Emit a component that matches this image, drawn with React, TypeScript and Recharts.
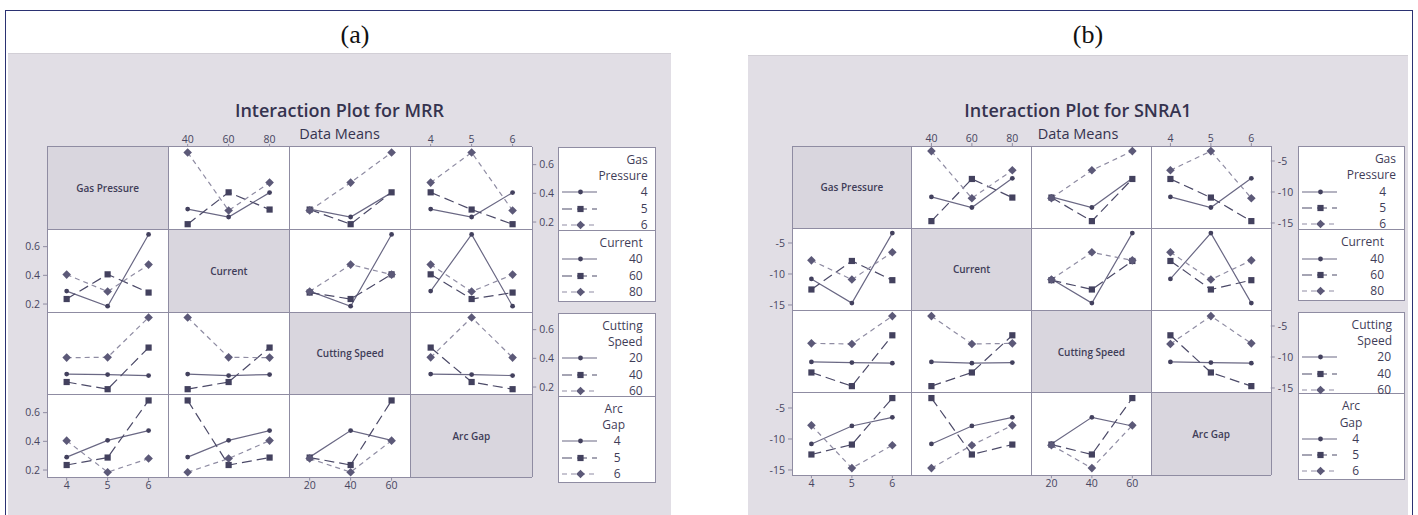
import React from 'react';
import { LineChart, Line, XAxis, YAxis } from 'recharts';

// Factor names and their three levels
const factorNames = ['Gas Pressure', 'Current', 'Cutting Speed', 'Arc Gap'];
const legendTitles = [['Gas', 'Pressure'], ['Current'], ['Cutting', 'Speed'], ['Arc', 'Gap']];
const gasPressureLevels = [4, 5, 6];
const currentLevels = [40, 60, 80];
const cuttingSpeedLevels = [20, 40, 60];
const arcGapLevels = [4, 5, 6];

// L9 orthogonal array: factor setting of each of the nine runs
const runGasPressure = [4, 4, 4, 5, 5, 5, 6, 6, 6];
const runCurrent = [40, 60, 80, 40, 60, 80, 40, 60, 80];
const runCuttingSpeed = [20, 40, 60, 40, 60, 20, 60, 20, 40];
const runArcGap = [4, 5, 6, 6, 4, 5, 5, 6, 4];

// Responses of the nine runs
const mrr = [0.29, 0.235, 0.405, 0.185, 0.407, 0.287, 0.685, 0.28, 0.475];
const snra1 = [-10.8, -12.5, -7.8, -14.7, -7.9, -10.9, -3.4, -11.0, -6.5];

// Axis ticks
const mrrTicks = [0.2, 0.4, 0.6];
const snra1Ticks = [-15, -10, -5];

const levels = [gasPressureLevels, currentLevels, cuttingSpeedLevels, arcGapLevels];
const runs = [runGasPressure, runCurrent, runCuttingSpeed, runArcGap];

const LINE = ['#6a6884', '#4c4a68', '#8f8ca3'];
const MARK = ['#43415e', '#43415e', '#5c5978'];
const DASH = [undefined, '10 5', '5 4'];
const GRID = '#8f8ca2';
const TXT = '#3f3d58';
const FONT = '"Open Sans", "Noto Sans", sans-serif';

// Mean response for each (row level, column level) pair
function cellData(resp: number[], rowF: number, colF: number) {
  return levels[colF].map((cv, b) => {
    const o: Record<string, number> = { x: b };
    levels[rowF].forEach((rv, a) => {
      const vals = resp.filter((_, r) => runs[rowF][r] === rv && runs[colF][r] === cv);
      o['s' + a] = vals.reduce((s, v) => s + v, 0) / vals.length;
    });
    return o;
  });
}

function Marker({ cx, cy, kind }: { cx: number; cy: number; kind: number }) {
  if (cx == null || cy == null) return null;
  if (kind === 0) return <circle cx={cx} cy={cy} r={2.4} fill={MARK[0]} />;
  if (kind === 1) return <rect x={cx - 3.1} y={cy - 3.1} width={6.2} height={6.2} fill={MARK[1]} />;
  const d = 4.3;
  return <polygon points={`${cx},${cy - d} ${cx + d},${cy} ${cx},${cy + d} ${cx - d},${cy}`} fill={MARK[2]} />;
}

type Panel = {
  caption: string; captionX: number; title: string; titleX: number;
  response: number[]; yDomain: [number, number]; yTicks: number[]; fmt: (v: number) => string;
  bg: { left: number; top: number; width: number; height: number };
  gx: number; gy: number; cw: number; rh: number;
  legendX: number; legendW: number;
  boxes: { top: number; h: number; div: number }[];
  legendAlign: { titleRight?: number; titleCenter?: number; valueRight: number }[];
};

const panels: Panel[] = [
  {
    caption: '(a)', captionX: 355, title: 'Interaction Plot for MRR', titleX: 339.5,
    response: mrr, yDomain: [0.147, 0.723], yTicks: mrrTicks, fmt: (v) => v.toFixed(1),
    bg: { left: 8, top: 53, width: 663, height: 462 },
    gx: 47, gy: 146.7, cw: 121.25, rh: 82.65,
    legendX: 557.7, legendW: 98,
    boxes: [{ top: 146.7, h: 155.6, div: 83.3 }, { top: 312.7, h: 170.6, div: 83 }],
    legendAlign: [
      { titleRight: 89, valueRight: 89 },
      { titleRight: 84, valueRight: 84 },
      { titleRight: 84, valueRight: 84 },
      { titleCenter: 55, valueRight: 62 },
    ],
  },
  {
    caption: '(b)', captionX: 1088, title: 'Interaction Plot for SNRA1', titleX: 1078,
    response: snra1, yDomain: [-15.85, -2.58], yTicks: snra1Ticks, fmt: (v) => String(v),
    bg: { left: 748, top: 55, width: 660, height: 460 },
    gx: 792, gy: 146, cw: 119.75, rh: 82.25,
    legendX: 1298, legendW: 107,
    boxes: [{ top: 146, h: 154.7, div: 83.3 }, { top: 311.7, h: 168.3, div: 81.6 }],
    legendAlign: [
      { titleRight: 97, valueRight: 87 },
      { titleRight: 85, valueRight: 85 },
      { titleRight: 93, valueRight: 92 },
      { titleCenter: 52, valueRight: 60 },
    ],
  },
];

const AX_H = 15;
const AY_W = 34;

function Cell({ p, i, j }: { p: Panel; i: number; j: number }) {
  const showTop = i === 0 && (j === 1 || j === 3);
  const showBottom = i === 3 && (j === 0 || j === 2);
  const showLeft = j === 0 && (i === 1 || i === 3);
  const showRight = j === 3 && (i === 0 || i === 2);
  const x = p.gx + j * p.cw;
  const y = p.gy + i * p.rh;
  const w = p.cw + (showLeft ? AY_W : 0) + (showRight ? AY_W : 0);
  const h = p.rh + (showTop ? AX_H : 0) + (showBottom ? AX_H : 0);
  const data = cellData(p.response, i, j);
  const tickStyle = { fontSize: 10.5, fill: '#474560', fontFamily: FONT };
  return (
    <div style={{ position: 'absolute', left: x - (showLeft ? AY_W : 0), top: y - (showTop ? AX_H : 0) }}>
      <LineChart width={w} height={h} data={data} margin={{ top: 0, right: 0, bottom: 0, left: 0 }}>
        <XAxis
          dataKey="x" type="number" domain={[-0.48, 2.48]} ticks={[0, 1, 2]} allowDataOverflow
          tickFormatter={(v: number) => String(levels[j][v])}
          hide={!(showTop || showBottom)} orientation={showTop ? 'top' : 'bottom'} height={AX_H}
          axisLine={false} tickSize={3} tickMargin={1} tick={tickStyle} tickLine={{ stroke: GRID }}
          interval={0}
        />
        <YAxis
          type="number" domain={p.yDomain} ticks={p.yTicks} allowDataOverflow
          tickFormatter={(v: number) => p.fmt(v)}
          hide={!(showLeft || showRight)} orientation={showRight ? 'right' : 'left'} width={AY_W}
          axisLine={false} tickSize={4} tickMargin={3} tick={tickStyle} tickLine={{ stroke: GRID }}
          interval={0}
        />
        {[0, 1, 2].map((k) => (
          <Line
            key={k} dataKey={'s' + k} stroke={LINE[k]} strokeWidth={1.2} strokeDasharray={DASH[k]}
            isAnimationActive={false} activeDot={false}
            dot={(d: any) => <Marker key={`m${k}-${d.index}`} cx={d.cx} cy={d.cy} kind={k} />}
          />
        ))}
      </LineChart>
    </div>
  );
}

function LegendSample({ kind }: { kind: number }) {
  return (
    <svg width={40} height={10} style={{ position: 'absolute', left: 0, top: -5 }}>
      <line x1={3} x2={38} y1={5} y2={5} stroke={LINE[kind]} strokeWidth={1.2} strokeDasharray={DASH[kind]} />
      <Marker cx={21.5} cy={5} kind={kind} />
    </svg>
  );
}

function LegendGroup({ p, f, y0 }: { p: Panel; f: number; y0: number }) {
  const al = p.legendAlign[f];
  const lines = legendTitles[f];
  const pitch = 16.3;
  const first = 12;
  const txt = (s: string, cy: number, right?: number, center?: number, key?: string) => (
    <div
      key={key}
      style={{
        position: 'absolute', top: cy - 8, height: 16, lineHeight: '16px', fontSize: 12, color: TXT,
        whiteSpace: 'nowrap', width: 100,
        left: center != null ? center - 50 : (right as number) - 100,
        textAlign: center != null ? 'center' : 'right',
      }}
    >
      {s}
    </div>
  );
  return (
    <>
      {lines.map((s, k) => txt(s, y0 + first + pitch * k, al.titleRight, al.titleCenter, 't' + k))}
      {levels[f].map((v, k) => {
        const cy = y0 + first + pitch * (lines.length + k);
        return (
          <React.Fragment key={'v' + k}>
            <div style={{ position: 'absolute', left: 0, top: cy }}>
              <LegendSample kind={k} />
            </div>
            {txt(String(v), cy, al.valueRight)}
          </React.Fragment>
        );
      })}
    </>
  );
}

function PanelView({ p }: { p: Panel }) {
  const cells = [];
  for (let i = 0; i < 4; i++) {
    for (let j = 0; j < 4; j++) {
      const x = p.gx + j * p.cw;
      const y = p.gy + i * p.rh;
      cells.push(
        <div
          key={`bg${i}${j}`}
          style={{
            position: 'absolute', left: x, top: y, width: p.cw, height: p.rh,
            background: i === j ? '#d9d6de' : '#ffffff',
            display: 'flex', alignItems: 'center', justifyContent: 'center',
            fontSize: 10, fontWeight: 600, color: TXT, fontFamily: FONT,
          }}
        >
          {i === j ? factorNames[i] : null}
        </div>
      );
    }
  }
  const gridLines = [];
  for (let k = 0; k <= 4; k++) {
    gridLines.push(
      <div key={'v' + k} style={{ position: 'absolute', left: p.gx + k * p.cw - 0.5, top: p.gy, width: 1, height: 4 * p.rh, background: GRID }} />,
      <div key={'h' + k} style={{ position: 'absolute', left: p.gx, top: p.gy + k * p.rh - 0.5, width: 4 * p.cw, height: 1, background: GRID }} />
    );
  }
  return (
    <>
      <div
        style={{
          position: 'absolute', left: p.captionX - 40, width: 80, top: 19, textAlign: 'center',
          fontFamily: '"Liberation Serif", "DejaVu Serif", serif', fontSize: 26, color: '#111', lineHeight: '32px',
        }}
      >
        {p.caption}
      </div>
      <div style={{ position: 'absolute', ...p.bg, background: '#e1dee5', borderTop: '1px solid #d2cfd6', boxSizing: 'border-box' }} />
      <div
        style={{
          position: 'absolute', left: p.titleX - 200, width: 400, top: 99, textAlign: 'center',
          fontSize: 18, fontWeight: 600, color: '#35334f', lineHeight: '22px', fontFamily: FONT,
        }}
      >
        {p.title}
      </div>
      <div
        style={{
          position: 'absolute', left: p.titleX - 200, width: 400, top: 125, textAlign: 'center',
          fontSize: 14.5, color: '#35334f', lineHeight: '18px', fontFamily: FONT,
        }}
      >
        Data Means
      </div>
      {cells}
      {gridLines}
      {[0, 1, 2, 3].flatMap((i) => [0, 1, 2, 3].filter((j) => j !== i).map((j) => <Cell key={`c${i}${j}`} p={p} i={i} j={j} />))}
      {p.boxes.map((b, bi) => (
        <div
          key={'lg' + bi}
          style={{
            position: 'absolute', left: p.legendX, top: b.top, width: p.legendW, height: b.h,
            background: '#fff', border: `1px solid ${GRID}`, boxSizing: 'border-box', fontFamily: FONT,
          }}
        >
          <div style={{ position: 'absolute', left: 0, right: 0, top: b.div - 1, height: 1, background: GRID }} />
          <LegendGroup p={p} f={bi * 2} y0={0} />
          <LegendGroup p={p} f={bi * 2 + 1} y0={b.div} />
        </div>
      ))}
    </>
  );
}

export default function App() {
  return (
    <div
      style={{
        position: 'absolute', left: 0, top: 0, width: 1418, height: 515, background: '#fff',
        overflow: 'hidden', fontFamily: FONT,
      }}
    >
      <div
        style={{
          position: 'absolute', left: 5, top: 10, width: 1408, height: 530,
          border: '1.5px solid #2b3272', boxSizing: 'border-box',
        }}
      />
      {panels.map((p) => (
        <PanelView key={p.caption} p={p} />
      ))}
    </div>
  );
}
